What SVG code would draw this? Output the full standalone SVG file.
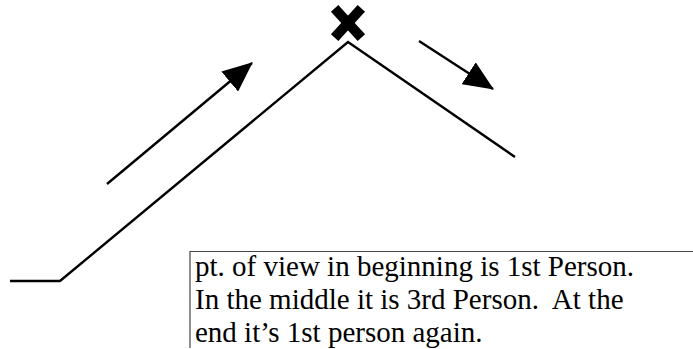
<svg xmlns="http://www.w3.org/2000/svg" width="693" height="349" viewBox="0 0 693 349">
<style>
.ln{fill:none;stroke:#000;stroke-width:2.4}
.x{stroke:#000;stroke-width:10;stroke-linecap:square}
.t{font-family:'Liberation Serif','Times New Roman',Times,'DejaVu Serif',serif;font-size:29px;fill:#000;white-space:pre}
</style>
<defs>
<marker id="ah2" markerWidth="30" markerHeight="26" refX="29" refY="13" orient="auto" markerUnits="userSpaceOnUse" viewBox="0 0 30 26">
<path d="M0,0 L30,13 L0,26 Z" fill="#000"/>
</marker>
</defs>
<g id="connectors">
<polyline class="ln" points="10,281 60,281 348,42 515,157"/>
<line class="ln" x1="107" y1="184" x2="252" y2="63" marker-end="url(#ah2)"/>
<line class="ln" x1="419" y1="41" x2="493" y2="89" marker-end="url(#ah2)"/>
</g>
<g id="mark">
<line class="x" x1="338" y1="12" x2="358" y2="34"/>
<line class="x" x1="358" y1="12" x2="338" y2="34"/>
</g>
<g id="note">
<path d="M190,348 L190,251.5 L693,251.5" fill="none" stroke="#444" stroke-width="1.2"/>
<text class="t" x="195" y="276">pt. of view in beginning is 1st Person.</text>
<text class="t" x="195" y="309" xml:space="preserve">In the middle it is 3rd Person.  At the</text>
<text class="t" x="195" y="342">end it’s 1st person again.</text>
</g>
</svg>
